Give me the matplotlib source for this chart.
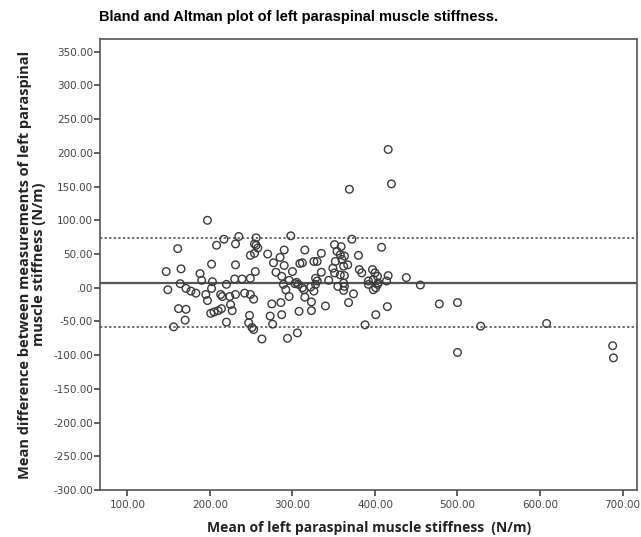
import numpy as np
import matplotlib
matplotlib.use("Agg")
import matplotlib.pyplot as plt
from matplotlib.ticker import FuncFormatter

# mean of the two measurements (N/m)
mean_vals = [197, 161, 208, 217, 235, 231, 256, 256, 254, 258, 249, 254, 270, 298, 290, 285,
             202, 231, 147, 165, 188, 190, 203, 220, 230, 239, 249, 255, 277,
             280, 290, 300, 287, 296, 305, 309, 164, 149,
             171, 177, 183, 195, 197, 202, 213, 215, 224, 231, 225, 227, 201, 205, 210, 214,
             162, 171, 170, 156, 220, 242, 249, 253, 248, 247, 251, 253, 263, 275, 273, 276,
             286, 287, 294, 292, 296, 289, 303, 308, 306,
             372, 408, 351, 359, 354, 358, 363, 360, 367, 362, 352, 349, 351, 358, 363, 380,
             315, 335, 312, 326, 330, 335, 328, 330, 381, 384, 397, 400, 403, 398, 392, 404,
             416, 414, 438, 455, 312, 322, 355, 363, 344,
             307, 314, 315, 323, 323, 326, 328, 340, 362, 362, 374, 368, 392, 401, 398, 403,
             415, 401, 388, 478, 500, 500,
             416, 420, 369, 528, 608, 688, 689]
# difference between the two measurements (N/m)
diff_vals = [100, 58, 63, 72, 76, 65, 74, 63, 65, 59, 48, 51, 50, 77, 56, 45,
             35, 34, 24, 28, 21, 11, 9, 5, 13, 13, 14, 24, 37,
             23, 33, 24, 17, 11, 8, 36, 6, -3,
             -1, -5, -8, -10, -19, -1, -10, -13, -13, -10, -25, -34, -38, -36, -34, -31,
             -31, -32, -48, -58, -51, -8, -10, -17, -41, -52, -59, -62, -76, -24, -42, -54,
             -22, -40, -75, -3, -13, 5, 6, -35, -67,
             72, 60, 64, 61, 54, 49, 47, 42, 34, 32, 39, 29, 22, 19, 18, 48,
             56, 51, 37, 39, 39, 23, 14, 10, 27, 22, 27, 22, 17, 12, 10, 7,
             18, 10, 15, 4, 0, 1, 2, 2, 11,
             5, -3, -14, -21, -34, -5, 5, -27, -4, 7, -9, -22, 5, 0, -3, 5,
             -28, -40, -55, -24, -22, -96,
             205, 154, 146, -57, -53, -86, -104]

bias = 7.5
upper_loa = 73.5
lower_loa = -58.5

x_ticks = [100, 200, 300, 400, 500, 600, 700]
y_ticks = list(range(-300, 351, 50))


def spss_fmt(v, pos):
    s = "%.2f" % v
    if s.startswith("0."):
        s = s[1:]
    if s.startswith("-0."):
        s = "-" + s[2:]
    return s


fig = plt.figure(figsize=(6.41, 5.37), dpi=100)
ax = fig.add_axes([0.156, 0.0875, 0.838, 0.84])

ax.scatter(mean_vals, diff_vals, s=30, facecolors="none", edgecolors="#3a3a3a", linewidths=1.0, zorder=3)

ax.axhline(bias, color="#555555", lw=1.6, zorder=2)
ax.axhline(upper_loa, color="#444444", lw=1.1, ls=(0, (1.5, 1.5)), zorder=2)
ax.axhline(lower_loa, color="#444444", lw=1.1, ls=(0, (1.5, 1.5)), zorder=2)

ax.set_xlim(66.8, 717.7)
ax.set_ylim(-300, 369)
ax.set_xticks(x_ticks)
ax.set_yticks(y_ticks)
ax.xaxis.set_major_formatter(FuncFormatter(spss_fmt))
ax.yaxis.set_major_formatter(FuncFormatter(spss_fmt))
ax.tick_params(direction="out", length=4, width=1.2, color="#444444",
               labelsize=7.5, labelcolor="#444444", pad=1)
ax.tick_params(axis="x", pad=3)

for sp in ax.spines.values():
    sp.set_color("#555555")
    sp.set_linewidth(1.2)

ax.set_title("Bland and Altman plot of left paraspinal muscle stiffness.",
             fontsize=10.5, fontweight="bold", family="Liberation Sans", pad=13, x=0.37)
ax.set_xlabel("Mean of left paraspinal muscle stiffness  (N/m)",
              fontsize=10, fontweight="bold", family="Open Sans", color="#222222", labelpad=8)
ax.set_ylabel("Mean difference between measurements of left paraspinal\nmuscle stiffness (N/m)",
              fontsize=10.5, fontweight="bold", family="Open Sans", color="#222222",
              linespacing=1.0, labelpad=5)

fig.savefig("out.png", dpi=100)
